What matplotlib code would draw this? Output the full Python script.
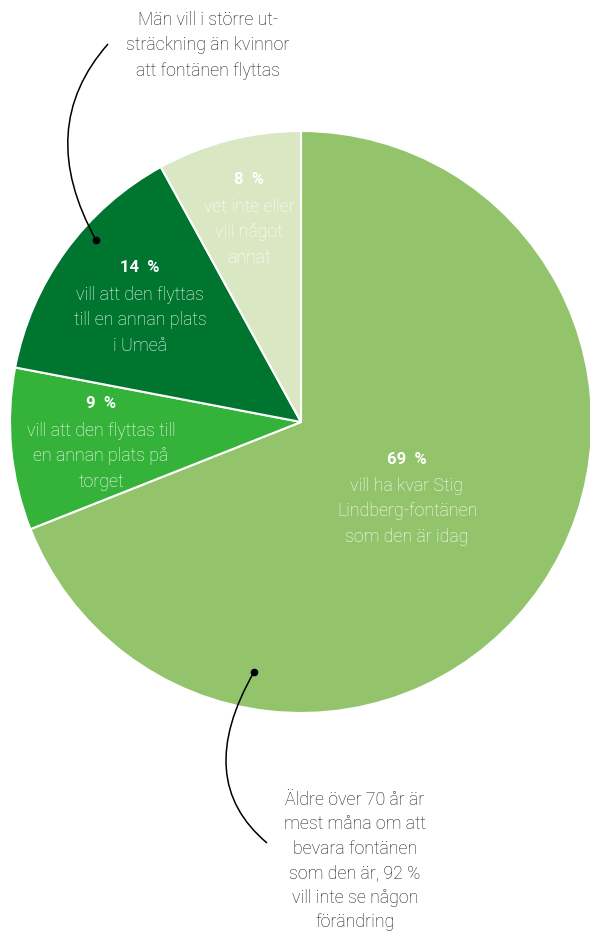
import matplotlib.pyplot as plt
from matplotlib.path import Path
from matplotlib.patches import PathPatch

# data
shares = [69, 9, 14, 8]
pct_labels = ['69 %', '9 %', '14 %', '8 %']
descriptions = [
    'vill ha kvar Stig\nLindberg-fontänen\nsom den är idag',
    'vill att den flyttas till\nen annan plats på\ntorget',
    'vill att den flyttas\ntill en annan plats\ni Umeå',
    'vet inte eller\nvill något\nannat',
]
colors = ['#93c46c', '#35b23a', '#00752f', '#d9e8c3']
note_top = 'Män vill i större ut-\nsträckning än kvinnor\natt fontänen flyttas'
note_bottom = ('Äldre över 70 år är\nmest måna om att\nbevara fontänen\n'
               'som den är, 92 %\nvill inte se någon\nförändring')

plt.rcParams['font.family'] = ['Roboto', 'DejaVu Sans']

W, H = 590, 936
fig = plt.figure(figsize=(W / 100, H / 100), dpi=100, facecolor='white')
ax = fig.add_axes([0, 0, 1, 1])


def Y(y):
    # image y (from top) -> axes y
    return H - y


cx, cy, r = 301, Y(422), 291
ax.pie(shares, colors=colors, startangle=90, counterclock=False,
       center=(cx, cy), radius=r, frame=True,
       wedgeprops=dict(edgecolor='white', linewidth=1.5))
ax.set_xlim(0, W)
ax.set_ylim(0, H)
ax.set_aspect('equal')
ax.axis('off')

FS = 12.8
LS = 1.52

# label positions (center x, header y) in image pixels
label_pos = [(407, 459), (101, 404), (140, 268), (249, 180)]
for (x, y), p, d in zip(label_pos, pct_labels, descriptions):
    ax.text(x, Y(y), p.replace(' ', '  '), color='white', fontsize=12,
            fontweight='bold', ha='center', va='center')
    ax.text(x, Y(y + 18), d, color='white', fontsize=FS, fontweight='light',
            ha='center', va='top', linespacing=LS)

ax.text(208, Y(11), note_top, color='#1a1a1a', fontsize=FS, fontweight='light',
        ha='center', va='top', linespacing=LS)
ax.text(355, Y(791), note_bottom, color='#1a1a1a', fontsize=FS,
        fontweight='light', ha='center', va='top', linespacing=1.46)


def curve(p0, c, p2):
    pts = [(p0[0], Y(p0[1])), (c[0], Y(c[1])), (p2[0], Y(p2[1]))]
    path = Path(pts, [Path.MOVETO, Path.CURVE3, Path.CURVE3])
    ax.add_patch(PathPatch(path, facecolor='none', edgecolor='black', lw=1.1))
    ax.plot(pts[0][0], pts[0][1], 'o', color='black', ms=4.5)


curve((96, 240), (34, 128), (108, 44))
curve((254, 672), (192, 780), (267, 843))

fig.savefig('out.png', dpi=100, facecolor='white')
